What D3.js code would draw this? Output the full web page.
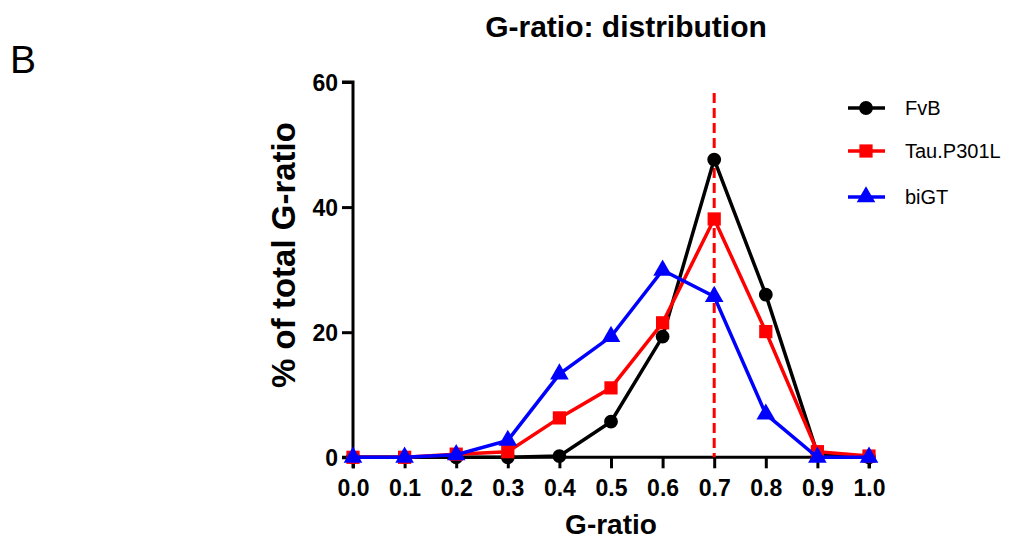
<!DOCTYPE html>
<html><head><meta charset="utf-8">
<script src="https://cdn.jsdelivr.net/npm/d3@7"></script>
<style>body{margin:0;background:#fff;} text{font-family:"Liberation Sans",Arial,sans-serif;}</style>
</head><body>
<svg id="c" width="1015" height="543"></svg>
<script>
const xValues = [0.0,0.1,0.2,0.3,0.4,0.5,0.6,0.7,0.8,0.9,1.0];
const fvb     = [0,0,0,0,0.2,5.7,19.3,47.6,26.0,0.6,0];
const tau     = [0,0,0.5,0.9,6.3,11.1,21.5,38.1,20.1,0.9,0.2];
const bigt    = [0,0,0.4,2.7,13.3,19.3,29.9,25.7,6.9,0,0];
const seriesNames = ["FvB","Tau.P301L","biGT"];
const yTicks = [0,20,40,60];
const xTicks = [0.0,0.1,0.2,0.3,0.4,0.5,0.6,0.7,0.8,0.9,1.0];
const refLine = 0.7;

const svg = d3.select("#c");
const x = d3.scaleLinear().domain([0,1]).range([353,869]);
const y = d3.scaleLinear().domain([0,60]).range([457.3,82]);

// title
svg.append("text").attr("x",626).attr("y",37).attr("text-anchor","middle")
  .attr("font-size",30).attr("font-weight","bold").text("G-ratio: distribution");
svg.append("text").attr("x",10).attr("y",73).attr("font-size",39).text("B");

// axes
const yAxis = d3.axisLeft(y).tickValues(yTicks).tickSize(11).tickPadding(4).tickFormat(d3.format("d"));
const gy = svg.append("g").attr("transform",`translate(${x(0)},0)`).call(yAxis);
const xAxis = d3.axisBottom(x).tickValues(xTicks).tickSize(11).tickPadding(11).tickFormat(d3.format(".1f"));
const gx = svg.append("g").attr("transform",`translate(0,${y(0)})`).call(xAxis);
[gx,gy].forEach(g=>{
  g.select(".domain").attr("stroke","#000").attr("stroke-width",3);
  g.selectAll(".tick line").attr("stroke","#000").attr("stroke-width",3);
  g.selectAll(".tick text").attr("font-size",23).attr("font-weight","bold").attr("fill","#000")
    .attr("font-family","'Liberation Sans',Arial,sans-serif");
});
gy.selectAll(".tick text").attr("dy","0.36em");
gy.select(".domain").attr("d",`M-11,${y(60)}H0V${y(0)}H-11`);
gx.select(".domain").attr("d",`M${x(0)},11V0H${x(1)}V11`);

svg.append("text").attr("transform",`translate(295,255) rotate(-90)`).attr("text-anchor","middle")
  .attr("font-size",33).attr("font-weight","bold").text("% of total G-ratio");
svg.append("text").attr("x",611).attr("y",534).attr("text-anchor","middle")
  .attr("font-size",28).attr("font-weight","bold").text("G-ratio");

// reference dashed line
svg.append("line").attr("x1",x(refLine)).attr("x2",x(refLine)).attr("y1",93).attr("y2",y(0))
  .attr("stroke","#ff0000").attr("stroke-width",3).attr("stroke-dasharray","10,5");

const series = [
  {name:seriesNames[0], vals:fvb, color:"#000000", shape:d3.symbolCircle, size:150, w:3.5},
  {name:seriesNames[1], vals:tau, color:"#ff0000", shape:d3.symbolSquare, size:175, w:3.5},
  {name:seriesNames[2], vals:bigt, color:"#0000ff", shape:d3.symbolTriangle, size:150, w:3.5}
];
const line = d3.line().x((d,i)=>x(xValues[i])).y(d=>y(d));
series.forEach(s=>{
  svg.append("path").datum(s.vals).attr("d",line).attr("fill","none")
    .attr("stroke",s.color).attr("stroke-width",s.w).attr("stroke-linejoin","miter");
  svg.selectAll(null).data(s.vals).enter().append("path")
    .attr("d",d3.symbol().type(s.shape).size(s.size))
    .attr("transform",(d,i)=>`translate(${x(xValues[i])},${y(d)})`)
    .attr("fill",s.color);
});

// legend
const legY = [108,151,197];
series.forEach((s,i)=>{
  const g = svg.append("g").attr("transform",`translate(0,${legY[i]})`);
  g.append("line").attr("x1",848).attr("x2",885).attr("y1",0).attr("y2",0)
    .attr("stroke",s.color).attr("stroke-width",3.5);
  g.append("path").attr("d",d3.symbol().type(s.shape).size(s.size)).attr("transform","translate(866,0)").attr("fill",s.color);
  g.append("text").attr("x",905).attr("y",7).attr("font-size",20).text(s.name);
});
</script>
</body></html>
